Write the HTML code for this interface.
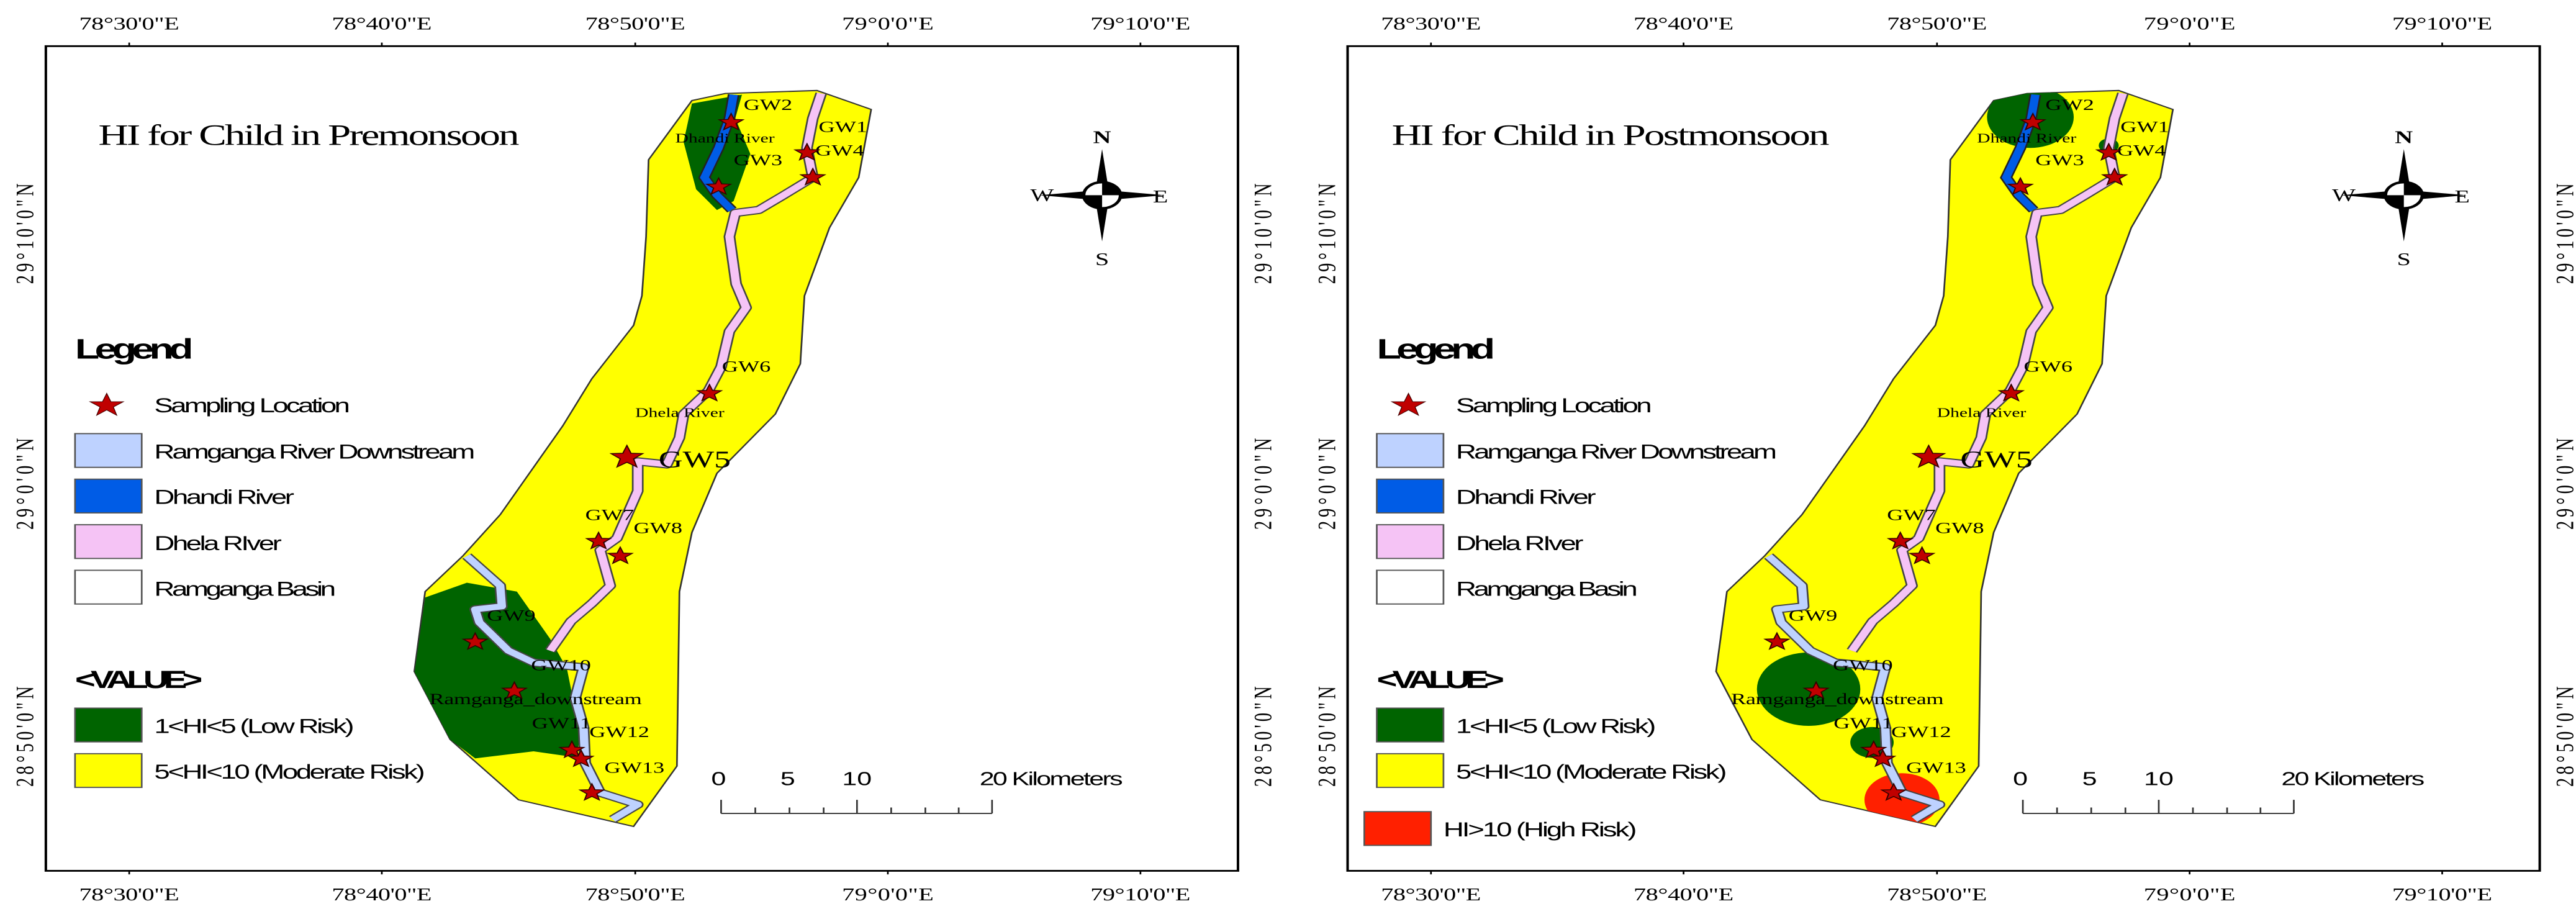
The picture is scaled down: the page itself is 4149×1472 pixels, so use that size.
<!DOCTYPE html>
<html><head><meta charset="utf-8"><style>
html,body{margin:0;padding:0;background:#fff}
svg{display:block}
.t{font-family:"Liberation Serif",serif;fill:#000}
.s{font-family:"Liberation Sans",sans-serif;fill:#000}
</style></head><body>
<svg id="map" width="4149" height="1472" viewBox="0 0 3090 1545" preserveAspectRatio="none" xmlns="http://www.w3.org/2000/svg">
<defs>
<g id="panel">
  <rect x="55" y="78" width="1430" height="1394" fill="#fff" stroke="#000" stroke-width="3"/>
  <g class="t" font-size="30" text-anchor="middle">
    <text x="155" y="50" textLength="120">78°30'0"E</text>
    <text x="458" y="50" textLength="120">78°40'0"E</text>
    <text x="762" y="50" textLength="120">78°50'0"E</text>
    <text x="1065" y="50" textLength="110">79°0'0"E</text>
    <text x="1368" y="50" textLength="120">79°10'0"E</text>
    <text x="155" y="1522" textLength="120">78°30'0"E</text>
    <text x="458" y="1522" textLength="120">78°40'0"E</text>
    <text x="762" y="1522" textLength="120">78°50'0"E</text>
    <text x="1065" y="1522" textLength="110">79°0'0"E</text>
    <text x="1368" y="1522" textLength="120">79°10'0"E</text>
    <text transform="translate(40,395) rotate(-90)" textLength="170">29°10'0"N</text>
    <text transform="translate(40,818) rotate(-90)" textLength="155">29°0'0"N</text>
    <text transform="translate(40,1245) rotate(-90)" textLength="170">28°50'0"N</text>
    <text transform="translate(1525,395) rotate(-90)" textLength="170">29°10'0"N</text>
    <text transform="translate(1525,818) rotate(-90)" textLength="155">29°0'0"N</text>
    <text transform="translate(1525,1245) rotate(-90)" textLength="170">28°50'0"N</text>
  </g>
  <g stroke="#000" stroke-width="2">
    <line x1="155" y1="72" x2="155" y2="78"/><line x1="458" y1="72" x2="458" y2="78"/><line x1="762" y1="72" x2="762" y2="78"/><line x1="1065" y1="72" x2="1065" y2="78"/><line x1="1368" y1="72" x2="1368" y2="78"/>
    <line x1="155" y1="1472" x2="155" y2="1478"/><line x1="458" y1="1472" x2="458" y2="1478"/><line x1="762" y1="1472" x2="762" y2="1478"/><line x1="1065" y1="1472" x2="1065" y2="1478"/><line x1="1368" y1="1472" x2="1368" y2="1478"/>
  </g>
  <polygon id="basin" points="830,170 870,158 980,153 1045,185 1030,300 995,385 965,500 960,615 930,700 860,800 830,900 815,1000 812,1295 760,1397 622,1352 540,1250 497,1135 510,1000 555,940 600,870 640,790 675,720 710,640 760,550 770,500 775,400 778,270" fill="#ffff00" stroke="#333" stroke-width="2"/>
  <g transform="translate(1322,330)">
    <polygon points="0,-78 8,-8 0,0 -8,-8" fill="#000"/>
    <polygon points="0,78 8,8 0,0 -8,8" fill="#000"/>
    <polygon points="-75,0 -8,-8 0,0 -8,8" fill="#000"/>
    <polygon points="75,0 8,-8 0,0 8,8" fill="#000"/>
    <circle r="22" fill="#fff" stroke="#000" stroke-width="4"/>
    <path d="M0,-22 A22,22 0 0 1 22,0 L0,0Z M0,22 A22,22 0 0 1 -22,0 L0,0Z" fill="#000"/>
    <text class="t" x="0" y="-88" font-size="30" font-weight="bold" text-anchor="middle">N</text>
    <text class="t" x="0" y="118" font-size="30" text-anchor="middle">S</text>
    <text class="t" x="-72" y="10" font-size="30" text-anchor="middle">W</text>
    <text class="t" x="70" y="12" font-size="30" text-anchor="middle">E</text>
  </g>
  <g>
    <text class="s" x="90" y="606" font-size="48" font-weight="bold" textLength="142">Legend</text>
    <polygon points="128,665 133,679 148,679 136,688 140,702 128,693 116,702 120,688 108,679 123,679" fill="#c00000" stroke="#400" stroke-width="1"/>
    <text class="s" x="185" y="697" font-size="34" textLength="235">Sampling Location</text>
    <rect x="90" y="733" width="80" height="57" fill="#bed2ff" stroke="#555" stroke-width="2"/>
    <text class="s" x="185" y="775" font-size="34" textLength="385">Ramganga River Downstream</text>
    <rect x="90" y="810" width="80" height="57" fill="#005ce6" stroke="#555" stroke-width="2"/>
    <text class="s" x="185" y="852" font-size="34" textLength="168">Dhandi River</text>
    <rect x="90" y="887" width="80" height="57" fill="#f5c3f5" stroke="#555" stroke-width="2"/>
    <text class="s" x="185" y="930" font-size="34" textLength="153">Dhela RIver</text>
    <rect x="90" y="964" width="80" height="57" fill="#fff" stroke="#555" stroke-width="2"/>
    <text class="s" x="185" y="1007" font-size="34" textLength="218">Ramganga Basin</text>
    <text class="s" x="90" y="1163" font-size="42" font-weight="bold" textLength="153">&lt;VALUE&gt;</text>
    <rect x="90" y="1197" width="80" height="57" fill="#006400" stroke="#555" stroke-width="2"/>
    <text class="s" x="185" y="1239" font-size="34" textLength="240">1&lt;HI&lt;5 (Low Risk)</text>
    <rect x="90" y="1274" width="80" height="57" fill="#ffff00" stroke="#555" stroke-width="2"/>
    <text class="s" x="185" y="1316" font-size="34" textLength="325">5&lt;HI&lt;10 (Moderate Risk)</text>
  </g>
  <g>
    <text class="s" x="862" y="1327" font-size="32" text-anchor="middle">0</text>
    <text class="s" x="945" y="1327" font-size="32" text-anchor="middle">5</text>
    <text class="s" x="1028" y="1327" font-size="32" text-anchor="middle">10</text>
    <text class="s" x="1175" y="1327" font-size="32" textLength="172">20 Kilometers</text>
    <path d="M865,1375 H1190 M865,1352 V1375 M906,1365 V1375 M947,1365 V1375 M988,1365 V1375 M1028,1352 V1375 M1069,1365 V1375 M1110,1365 V1375 M1150,1365 V1375 M1190,1352 V1375" stroke="#333" stroke-width="2" fill="none"/>
  </g>
</g>
<g id="rivers">
  <polyline points="880,160 875,200 862,250 845,300 860,330 878,355" fill="none" stroke="#222" stroke-width="14"/>
  <polyline points="880,160 875,200 862,250 845,300 860,330 878,355" fill="none" stroke="#005ce6" stroke-width="10"/>
  <g fill="none" stroke-linejoin="round">
    <polyline points="985,158 975,200 968,250 975,300 940,330 910,355 882,360 875,400 880,450 883,480 895,520 875,560 865,620 850,660 820,700 815,740 800,785 765,780 765,830 740,910 720,930 732,990 710,1020 685,1050 660,1100" stroke="#444" stroke-width="14"/>
    <polyline points="985,158 975,200 968,250 975,300 940,330 910,355 882,360 875,400 880,450 883,480 895,520 875,560 865,620 850,660 820,700 815,740 800,785 765,780 765,830 740,910 720,930 732,990 710,1020 685,1050 660,1100" stroke="#f5c3f5" stroke-width="10"/>
    <polyline points="560,940 600,990 602,1025 570,1030 575,1052 610,1100 640,1120 700,1128 690,1180 700,1230 702,1290 720,1340 765,1360 735,1385" stroke="#444" stroke-width="14"/>
    <polyline points="560,940 600,990 602,1025 570,1030 575,1052 610,1100 640,1120 700,1128 690,1180 700,1230 702,1290 720,1340 765,1360 735,1385" stroke="#bed2ff" stroke-width="10"/>
  </g>
  <g class="t" font-size="27">
    <text x="892" y="186">GW2</text>
    <text x="810" y="241" font-size="22">Dhandi River</text>
    <text x="880" y="279">GW3</text>
    <text x="982" y="223">GW1</text>
    <text x="978" y="263">GW4</text>
    <text x="866" y="628">GW6</text>
    <text x="762" y="705" font-size="22">Dhela River</text>
    <text x="790" y="790" font-size="40">GW5</text>
    <text x="702" y="879">GW7</text>
    <text x="760" y="901">GW8</text>
    <text x="584" y="1049">GW9</text>
    <text x="637" y="1133">GW10</text>
    <text x="515" y="1190" textLength="255">Ramganga_downstream</text>
    <text x="638" y="1231">GW11</text>
    <text x="707" y="1246">GW12</text>
    <text x="725" y="1306">GW13</text>
  </g>
</g>
<clipPath id="bclip"><use href="#basin"/></clipPath>
</defs>

<g id="left-panel">
  <use href="#panel"/>
  <g clip-path="url(#bclip)">
    <polygon points="830,175 870,165 890,160 882,200 900,260 880,340 860,355 835,320 820,240" fill="#006400"/>
    <polygon points="510,1010 560,985 620,1000 660,1080 680,1130 690,1200 700,1230 690,1280 640,1270 570,1282 540,1250 497,1140" fill="#006400"/>
  </g>
  <use href="#rivers"/>
  <text class="t" x="118" y="245" font-size="50" textLength="505">HI for Child in Premonsoon</text>
  <g id="stars-left"></g>
</g>

<g id="right-panel" transform="translate(1561.5,0)">
  <use href="#panel"/>
  <g clip-path="url(#bclip)">
    <circle cx="874" cy="198" r="52" fill="#006400"/>
    <circle cx="968" cy="246" r="12" fill="#006400"/>
    <circle cx="608" cy="1165" r="62" fill="#006400"/>
    <circle cx="684" cy="1255" r="26" fill="#006400"/>
    <circle cx="720" cy="1352" r="45" fill="#ff2000"/>
  </g>
  <use href="#rivers"/>
  <text class="t" x="108" y="245" font-size="50" textLength="525">HI for Child in Postmonsoon</text>
  <rect x="75" y="1372" width="80" height="57" fill="#ff2000" stroke="#555" stroke-width="2"/>
  <text class="s" x="170" y="1414" font-size="34" textLength="232">HI&gt;10 (High Risk)</text>
  <g id="stars-right"></g>
</g>
</svg>
<script>
const siteNames = ["GW2","GW3","GW1","GW4","GW6","GW5","GW7","GW8","GW9","GW10","GW11","GW12","GW13"];
const siteX = [877,862,968,975,851,752,718,744,570,617,686,697,710];
const siteY = [207,316,258,300,665,773,915,940,1085,1168,1268,1283,1340];
const siteSize = [15,15,15,15,15,20,15,15,15,15,15,15,15];
function starPts(cx,cy,r){
  const p=[];
  for(let i=0;i<10;i++){
    const a=-Math.PI/2+i*Math.PI/5, rr=i%2?r*0.42:r;
    p.push((cx+rr*Math.cos(a)).toFixed(1)+','+(cy+rr*Math.sin(a)).toFixed(1));
  }
  return p.join(' ');
}
['stars-left','stars-right'].forEach(function(id){
  const g=document.getElementById(id);
  siteNames.forEach(function(n,i){
    const s=document.createElementNS('http://www.w3.org/2000/svg','polygon');
    s.setAttribute('points',starPts(siteX[i],siteY[i],siteSize[i]));
    s.setAttribute('fill','#c00000');
    s.setAttribute('stroke','#300');
    s.setAttribute('stroke-width','1.5');
    
    
    g.appendChild(s);
  });
});
</script>
</body></html>
